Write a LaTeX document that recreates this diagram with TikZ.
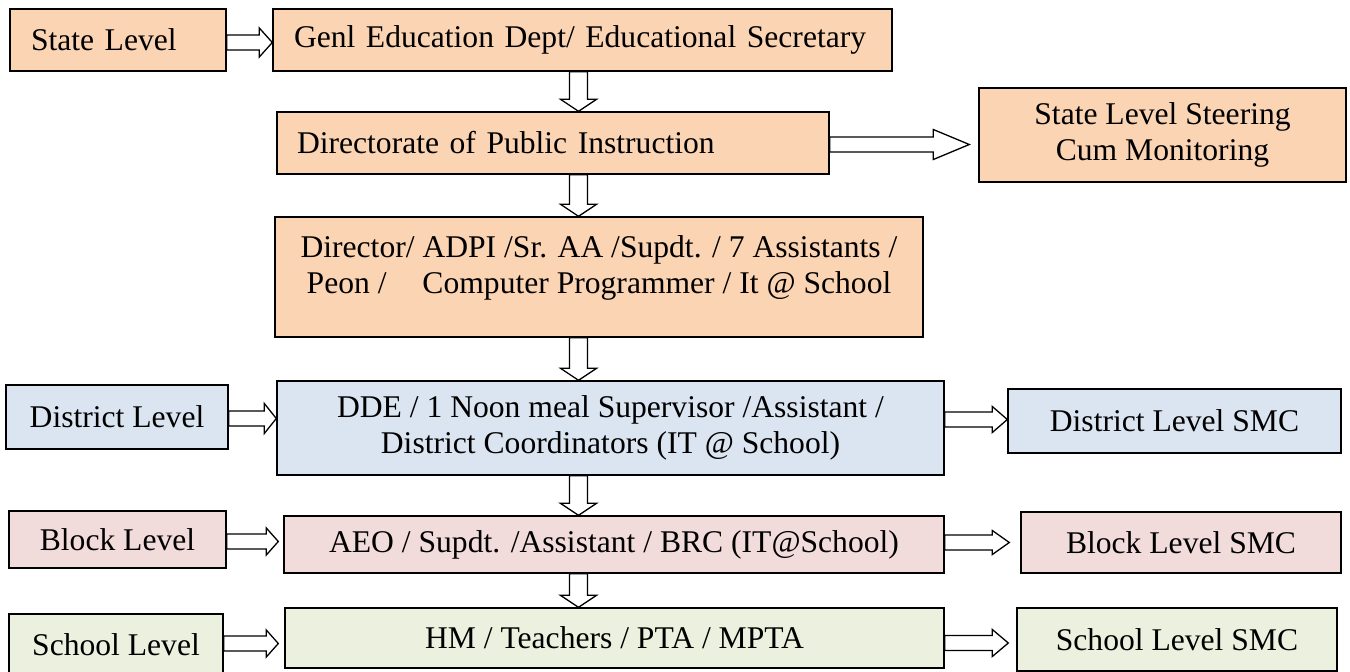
\documentclass[tikz,border=0pt]{standalone}
\usepackage{fontspec}
\setmainfont{Liberation Serif}
\usetikzlibrary{calc}
\definecolor{peach}{HTML}{FBD4B4}
\definecolor{lblue}{HTML}{DBE5F1}
\definecolor{lpink}{HTML}{F2DBDB}
\definecolor{lgreen}{HTML}{EBF1DE}
% horizontal block arrow: from, to, y-reference, head length, head half-width
\newcommand\hblk[5]{\draw[blk] let \p1=(#1),\p2=(#2),\p3=(#3) in
  (\x1,\y3+7.5pt) -- (\x2-#4,\y3+7.5pt) -- (\x2-#4,\y3+#5) -- (\x2,\y3) --
  (\x2-#4,\y3-#5) -- (\x2-#4,\y3-7.5pt) -- (\x1,\y3-7.5pt) -- cycle;}
% vertical block arrow: from, to, x-reference
\newcommand\vblk[3]{\draw[blk] let \p1=(#1),\p2=(#2),\p3=(#3) in
  (\x3-9pt,\y1) -- (\x3-9pt,\y2+12pt) -- (\x3-18pt,\y2+12pt) -- (\x3,\y2) --
  (\x3+18pt,\y2+12pt) -- (\x3+9pt,\y2+12pt) -- (\x3+9pt,\y1) -- cycle;}
\begin{document}
\begin{tikzpicture}[x=1pt,y=-1pt,
  box/.style={draw=black, line width=1.4pt, inner sep=0pt,
    font=\fontsize{31.6}{36}\selectfont, align=center},
  txt/.style={inner sep=0pt, font=\fontsize{31.6}{36}\selectfont, align=center},
  blk/.style={draw=black, line width=1.3pt, fill=white, line join=miter}]
\useasboundingbox (0,0) rectangle (1350,672);
\clip (0,0) rectangle (1350,672);
\coordinate (vx) at (578.5,0);
% boxes
\node[box, fill=peach, minimum width=216pt, minimum height=62pt, text width=174pt, inner xsep=21pt, align=left] (st) at (118,40) {State Level};
\node[box, fill=peach, minimum width=619pt, minimum height=62pt, text width=577pt, inner xsep=21pt, align=left] (genl) at (582.5,40) {Genl Education Dept/ Educational Secretary};
\node[box, fill=peach, minimum width=552pt, minimum height=62pt, text width=512pt, inner xsep=20pt, align=left] (dpi) at (553,143) {Directorate of Public Instruction};
\node[box, fill=peach, minimum width=367pt, minimum height=94pt] (steer) at (1162.5,135) {State Level Steering\\Cum Monitoring};
\node[box, fill=peach, minimum width=648pt, minimum height=120pt] (dir) at (599,277) {};
\node[txt, anchor=north] (dirtext) at ($(dir.north)+(0,19)$) {Director/ ADPI /Sr. AA /Supdt. / 7 Assistants /\\Peon /\hspace{28pt} Computer Programmer / It @ School};
\node[box, fill=lblue, minimum width=222pt, minimum height=64pt] (dist) at (117,417) {District Level};
\node[box, fill=lblue, minimum width=667pt, minimum height=94pt] (dde) at (610.5,428) {DDE / 1 Noon meal Supervisor /Assistant /\\District Coordinators (IT @ School)};
\node[box, fill=lblue, minimum width=333pt, minimum height=64pt] (dsmc) at (1174.5,421) {District Level SMC};
\node[box, fill=lpink, minimum width=217pt, minimum height=57pt] (blk) at (117.5,539.5) {Block Level};
\node[box, fill=lpink, minimum width=660pt, minimum height=57pt] (aeo) at (614,544.5) {AEO / Supdt. /Assistant / BRC (IT@School)};
\node[box, fill=lpink, minimum width=320pt, minimum height=61pt] (bsmc) at (1181,542.5) {Block Level SMC};
\node[box, fill=lgreen, minimum width=214pt, minimum height=62pt] (sch) at (116,645) {School Level};
\node[box, fill=lgreen, minimum width=659pt, minimum height=60pt] (hm) at (614.5,638) {HM / Teachers / PTA / MPTA};
\node[box, fill=lgreen, minimum width=320pt, minimum height=63pt] (ssmc) at (1177,639.5) {School Level SMC};
% arrows
\hblk{st.east}{genl.west}{$(st.east)+(0,2.5)$}{13pt}{14.5pt}
\vblk{genl.south}{dpi.north}{vx}
\hblk{dpi.east}{$(steer.west)+(-9,0)$}{$(dpi.east)+(0,1.5)$}{36pt}{15pt}
\vblk{dpi.south}{dir.north}{vx}
\vblk{dir.south}{dde.north}{vx}
\hblk{dist.east}{dde.west}{$(dist.east)+(0,1.5)$}{12pt}{15pt}
\hblk{dde.east}{dsmc.west}{$(dsmc.west)+(0,-1.5)$}{15pt}{13pt}
\vblk{dde.south}{aeo.north}{vx}
\hblk{blk.east}{$(aeo.west)+(-5,0)$}{$(blk.east)+(0,2)$}{12pt}{13.5pt}
\hblk{aeo.east}{$(bsmc.west)+(-11,0)$}{$(aeo.east)+(0,-2)$}{17pt}{12pt}
\vblk{aeo.south}{hm.north}{vx}
\hblk{sch.east}{$(hm.west)+(-6,0)$}{$(sch.east)+(0,-1.5)$}{12pt}{13.5pt}
\hblk{hm.east}{$(ssmc.west)+(-8,0)$}{$(hm.east)+(0,5)$}{16pt}{13.5pt}
\end{tikzpicture}
\end{document}
